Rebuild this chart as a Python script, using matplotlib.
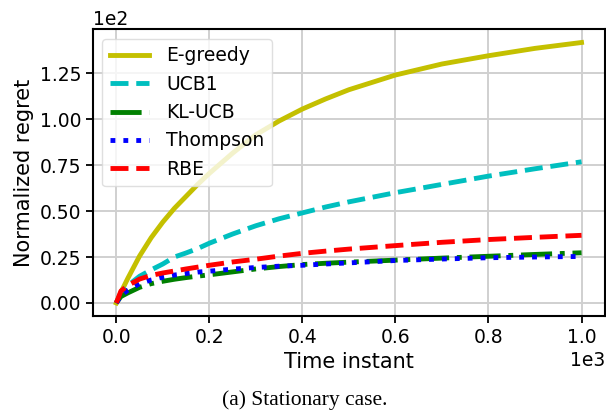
import matplotlib
matplotlib.use('Agg')
import matplotlib.pyplot as plt

# cumulative regret per policy, sampled along the horizon
t = [0, 10, 25, 50, 75, 100, 125, 150, 175, 200, 250, 300, 350, 400, 450,
     500, 600, 700, 800, 900, 1000]
egreedy = [0, 5.8, 13.5, 25.5, 35.5, 44, 51.5, 58, 64.5, 70.5, 81.5, 91.5, 99,
           105.5, 111, 116, 124, 130, 134.5, 138.5, 141.7]
ucb1 = [0, 5, 9.5, 14.5, 18, 21.2, 25, 27.2, 29.6, 32.5, 37.5, 42, 45.8, 49,
        52.2, 55, 60, 64.5, 69, 73, 76.8]
klucb = [0, 3.5, 5.5, 8.5, 10.5, 11.8, 12.9, 13.8, 14.6, 15.3, 16.9, 18.5,
         19.8, 20.9, 21.6, 22.2, 23.3, 24.4, 25.4, 26.4, 27.3]
thompson = [0, 4, 7, 10.5, 12.5, 14, 15.2, 16, 16.8, 17.3, 18.4, 19.3, 20,
            20.5, 21.2, 21.8, 23.1, 23.9, 24.6, 25.0, 25.3]
rbe = [0, 6.5, 9.5, 13, 15, 16.3, 17.4, 18.5, 19.5, 20.5, 22.3, 23.8, 25.5, 27,
       28.2, 29.3, 31.2, 33, 34.5, 35.7, 36.8]

plt.rcParams['font.family'] = 'DejaVu Sans'
fig = plt.figure(figsize=(6.06, 4.15), dpi=100)
ax = fig.add_axes([0.1535, 0.2386, 0.8445, 0.6904])

lw = 3.5
ax.plot(t, egreedy, color='#c4c000', lw=lw, ls='-', label='E-greedy')
ax.plot(t, ucb1, color='#00bfbf', lw=lw, ls='--', label='UCB1')
ax.plot(t, klucb, color='green', lw=lw, ls='-.', label='KL-UCB')
ax.plot(t, thompson, color='blue', lw=lw, ls=':', label='Thompson')
ax.plot(t, rbe, color='red', lw=lw, ls='--', label='RBE')

ax.grid(True, color='#d0d0d0', lw=1.4)
ax.set_axisbelow(True)
for s in ax.spines.values():
    s.set_linewidth(1.5)
    s.set_color('black')
ax.tick_params(axis='both', labelsize=13.5, length=5, width=1.3, direction='out')
ax.ticklabel_format(style='sci', axis='both', scilimits=(0, 0))
ax.xaxis.get_offset_text().set_fontsize(13.5)
ax.yaxis.get_offset_text().set_fontsize(13.5)

ax.set_xlabel('Time instant', fontsize=15)
ax.set_ylabel('Normalized regret', fontsize=15)
ax.legend(loc='upper left', fontsize=13.5, framealpha=0.8, edgecolor='#d8d8d8',
          handlelength=2.1, handletextpad=0.9, borderaxespad=0.5)

fig.text(0.503, 0.036, '(a) Stationary case.', ha='center', va='center',
         fontsize=15.5, family='Liberation Serif')

plt.savefig('out.png', dpi=100)
